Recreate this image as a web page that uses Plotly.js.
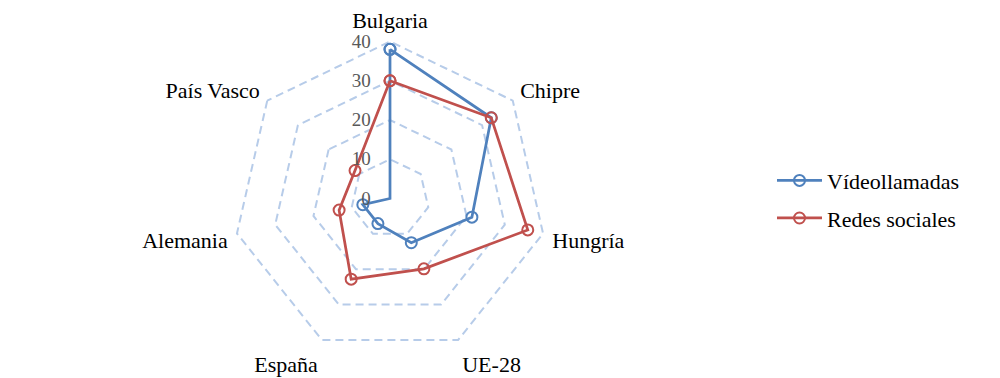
<!DOCTYPE html>
<html>
<head>
<meta charset="utf-8">
<script src="https://cdn.plot.ly/plotly-3.0.1.min.js"></script>
<style>html,body{margin:0;padding:0;background:#fff;}#chart{width:1000px;height:378px;}</style>
</head>
<body>
<div id="chart"></div>
<script>
const categories = ["Bulgaria", "Chipre", "Hungría", "UE-28", "España", "Alemania", "País Vasco"];
const videollamadas = [38, 33, 21.4, 12.5, 7.1, 7.1, 0];
const redesSociales = [30, 33, 36, 19.9, 22.8, 13.3, 11.4];
const seriesNames = ["Vídeollamadas", "Redes sociales"];
const radialTicks = [0, 10, 20, 30, 40];

function closed(a) { return a.concat([a[0]]); }

const colors = ["#4F81BD", "#C0504D"];
const traces = [videollamadas, redesSociales].map((vals, i) => ({
  type: "scatterpolar",
  mode: "lines+markers",
  name: seriesNames[i],
  legendgroup: "g" + i,
  r: closed(vals),
  theta: closed(categories),
  line: {color: colors[i], width: 2.75},
  marker: {symbol: "circle", size: 11, color: "rgba(255,255,255,0)", line: {color: colors[i], width: 2}},
  hoverinfo: "skip",
  cliponaxis: false
}));

const rMax = 40.4;
const cx = 390, cy = 198.5, R = 157 * rMax / 40, W = 1000, H = 378;
const layout = {
  width: W, height: H,
  margin: {l: 0, r: 0, t: 0, b: 0},
  paper_bgcolor: "#fff",
  font: {family: "Liberation Serif, DejaVu Serif, serif", size: 22, color: "#000"},
  showlegend: true,
  legend: {
    x: 0.772, y: 0.472, xanchor: "left", yanchor: "middle",
    font: {family: "Liberation Serif, serif", size: 22, color: "#000"},
    traceorder: "grouped", tracegroupgap: 6,
    itemwidth: 45,
    bgcolor: "rgba(0,0,0,0)"
  },
  polar: {
    domain: {x: [(cx - R) / W, (cx + R) / W], y: [(H - cy - R) / H, (H - cy + R) / H]},
    gridshape: "linear",
    bgcolor: "rgba(0,0,0,0)",
    radialaxis: {
      range: [0, rMax],
      tickvals: radialTicks,
      ticktext: radialTicks.map(String),
      angle: 90,
      tickangle: 90,
      side: "counterclockwise",
      showline: false,
      ticks: "outside",
      ticklen: 12,
      tickcolor: "rgba(0,0,0,0)",
      showgrid: true,
      gridcolor: "#B7CCE9",
      gridwidth: 2,
      griddash: "8px,5px",
      tickfont: {family: "Liberation Serif, serif", size: 19, color: "#595959"}
    },
    angularaxis: {
      type: "category",
      categoryarray: categories,
      rotation: 90,
      direction: "clockwise",
      showgrid: false,
      showline: false,
      ticks: "outside",
      ticklen: 3,
      tickcolor: "rgba(0,0,0,0)",
      tickfont: {family: "Liberation Serif, serif", size: 22, color: "#000"}
    }
  }
};

Plotly.newPlot("chart", traces, layout, {staticPlot: true, displayModeBar: false});
</script>
</body>
</html>
